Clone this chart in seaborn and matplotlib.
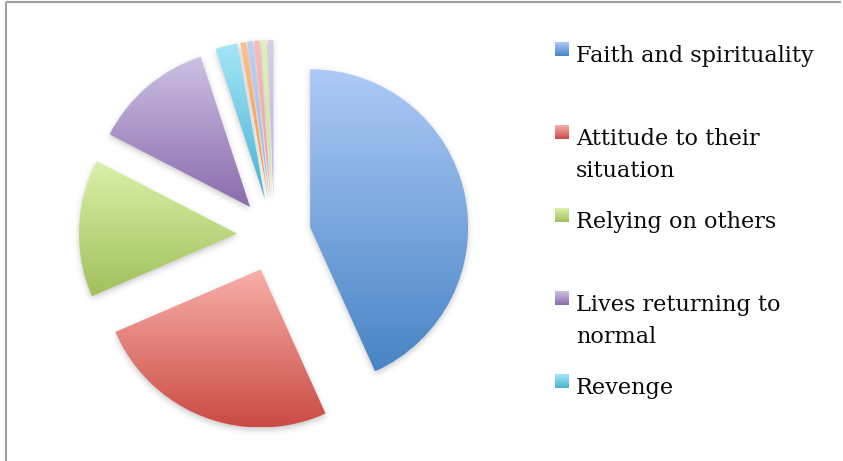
import numpy as np
import matplotlib
matplotlib.use("Agg")
import matplotlib.pyplot as plt
import seaborn as sns

# Coping themes (number of mentions)
themes = [
    "Faith and spirituality",
    "Attitude to their\nsituation",
    "Relying on others",
    "Lives returning to\nnormal",
    "Revenge",
    "Theme 6",
    "Theme 7",
    "Theme 8",
    "Theme 9",
    "Theme 10",
]
mentions = [77, 45, 25, 22, 4, 1, 1, 1, 1, 1]
legend_count = 5

# Gradient end colours for each slice (top -> bottom)
light_colors = ["#AECAF7", "#F9B0AA", "#DAF1A9", "#CDC0E4", "#A4E6F9",
                "#FFC08A", "#BCD1F2", "#F8BDBA", "#E0F1BC", "#D8CFE9"]
dark_colors = ["#4884C5", "#CA4B44", "#A1C05C", "#8A6BAC", "#48B2D1",
               "#F5923F", "#9DB8E6", "#EE9C98", "#C8E396", "#BBADD7"]

W, H = 843, 461
sns.set_theme(style="white")
plt.rcParams["font.family"] = ["DejaVu Serif"]

fig = plt.figure(figsize=(W / 100, H / 100), dpi=100)
ax = fig.add_axes([0, 0, 1, 1])

center = (274, H - 235)
radius = 158
wedges, _ = ax.pie(mentions, radius=radius, center=center, startangle=90,
                   counterclock=False, explode=[37] * len(mentions),
                   wedgeprops=dict(linewidth=0))

# Soft drop shadow under the slices
xs = np.arange(W) + 0.5
ys = np.arange(H) + 0.5
gx, gy = np.meshgrid(xs, ys)
pts = np.column_stack([gx.ravel(), gy.ravel()])
mask = np.zeros(W * H)
for w in wedges:
    p = w.get_path().transformed(w.get_patch_transform())
    mask = np.maximum(mask, p.contains_points(pts).astype(float))
mask = mask.reshape(H, W)
sigma = 3.0
k = np.arange(-10, 11)
kern = np.exp(-0.5 * (k / sigma) ** 2)
kern /= kern.sum()
blur = np.apply_along_axis(lambda r: np.convolve(r, kern, mode="same"), 1, mask)
blur = np.apply_along_axis(lambda c: np.convolve(c, kern, mode="same"), 0, blur)
shadow = np.zeros((H, W, 4))
shadow[..., :3] = 0.35
shadow[..., 3] = blur * 0.32
ax.imshow(shadow, extent=(0, W, -3, H - 3), origin="lower", aspect="auto",
          zorder=1, interpolation="bilinear")

# Vertical gradient fill clipped to each slice
grad = np.linspace(0, 1, 256).reshape(-1, 1)
for w, c0, c1 in zip(wedges, light_colors, dark_colors):
    w.set_facecolor("none")
    w.set_edgecolor("none")
    w.set_zorder(2)
    bb = w.get_path().get_extents(w.get_patch_transform())
    cmap = sns.blend_palette([c0, c1], as_cmap=True)
    im = ax.imshow(grad, cmap=cmap, extent=(bb.x0, bb.x1, bb.y0, bb.y1),
                   origin="upper", aspect="auto", zorder=2,
                   interpolation="bilinear")
    im.set_clip_path(w)

# Legend entries
baseline0 = 62
step = 83
for i in range(legend_count):
    yb = H - (baseline0 + step * i)
    cmap = sns.blend_palette([light_colors[i], dark_colors[i]], as_cmap=True)
    ax.imshow(grad, cmap=cmap, extent=(555, 569, yb + 5.5, yb + 19),
              origin="upper", aspect="auto", zorder=3)
    for j, line in enumerate(themes[i].split("\n")):
        ax.text(576, yb - 32 * j, line, fontsize=16.1, color="#0A0A0A",
                va="baseline", ha="left", zorder=3)

# Frame lines along the top and left edges
ax.plot([5.5, 841], [H - 2, H - 2], color="#A0A0A0", lw=1.5,
        solid_capstyle="butt", zorder=4)
ax.plot([5.5, 5.5], [0, H - 2], color="#A0A0A0", lw=1.5,
        solid_capstyle="butt", zorder=4)

ax.set_xlim(0, W)
ax.set_ylim(0, H)
ax.set_aspect("auto")
ax.axis("off")
fig.savefig("out.png", dpi=100, facecolor="white")
